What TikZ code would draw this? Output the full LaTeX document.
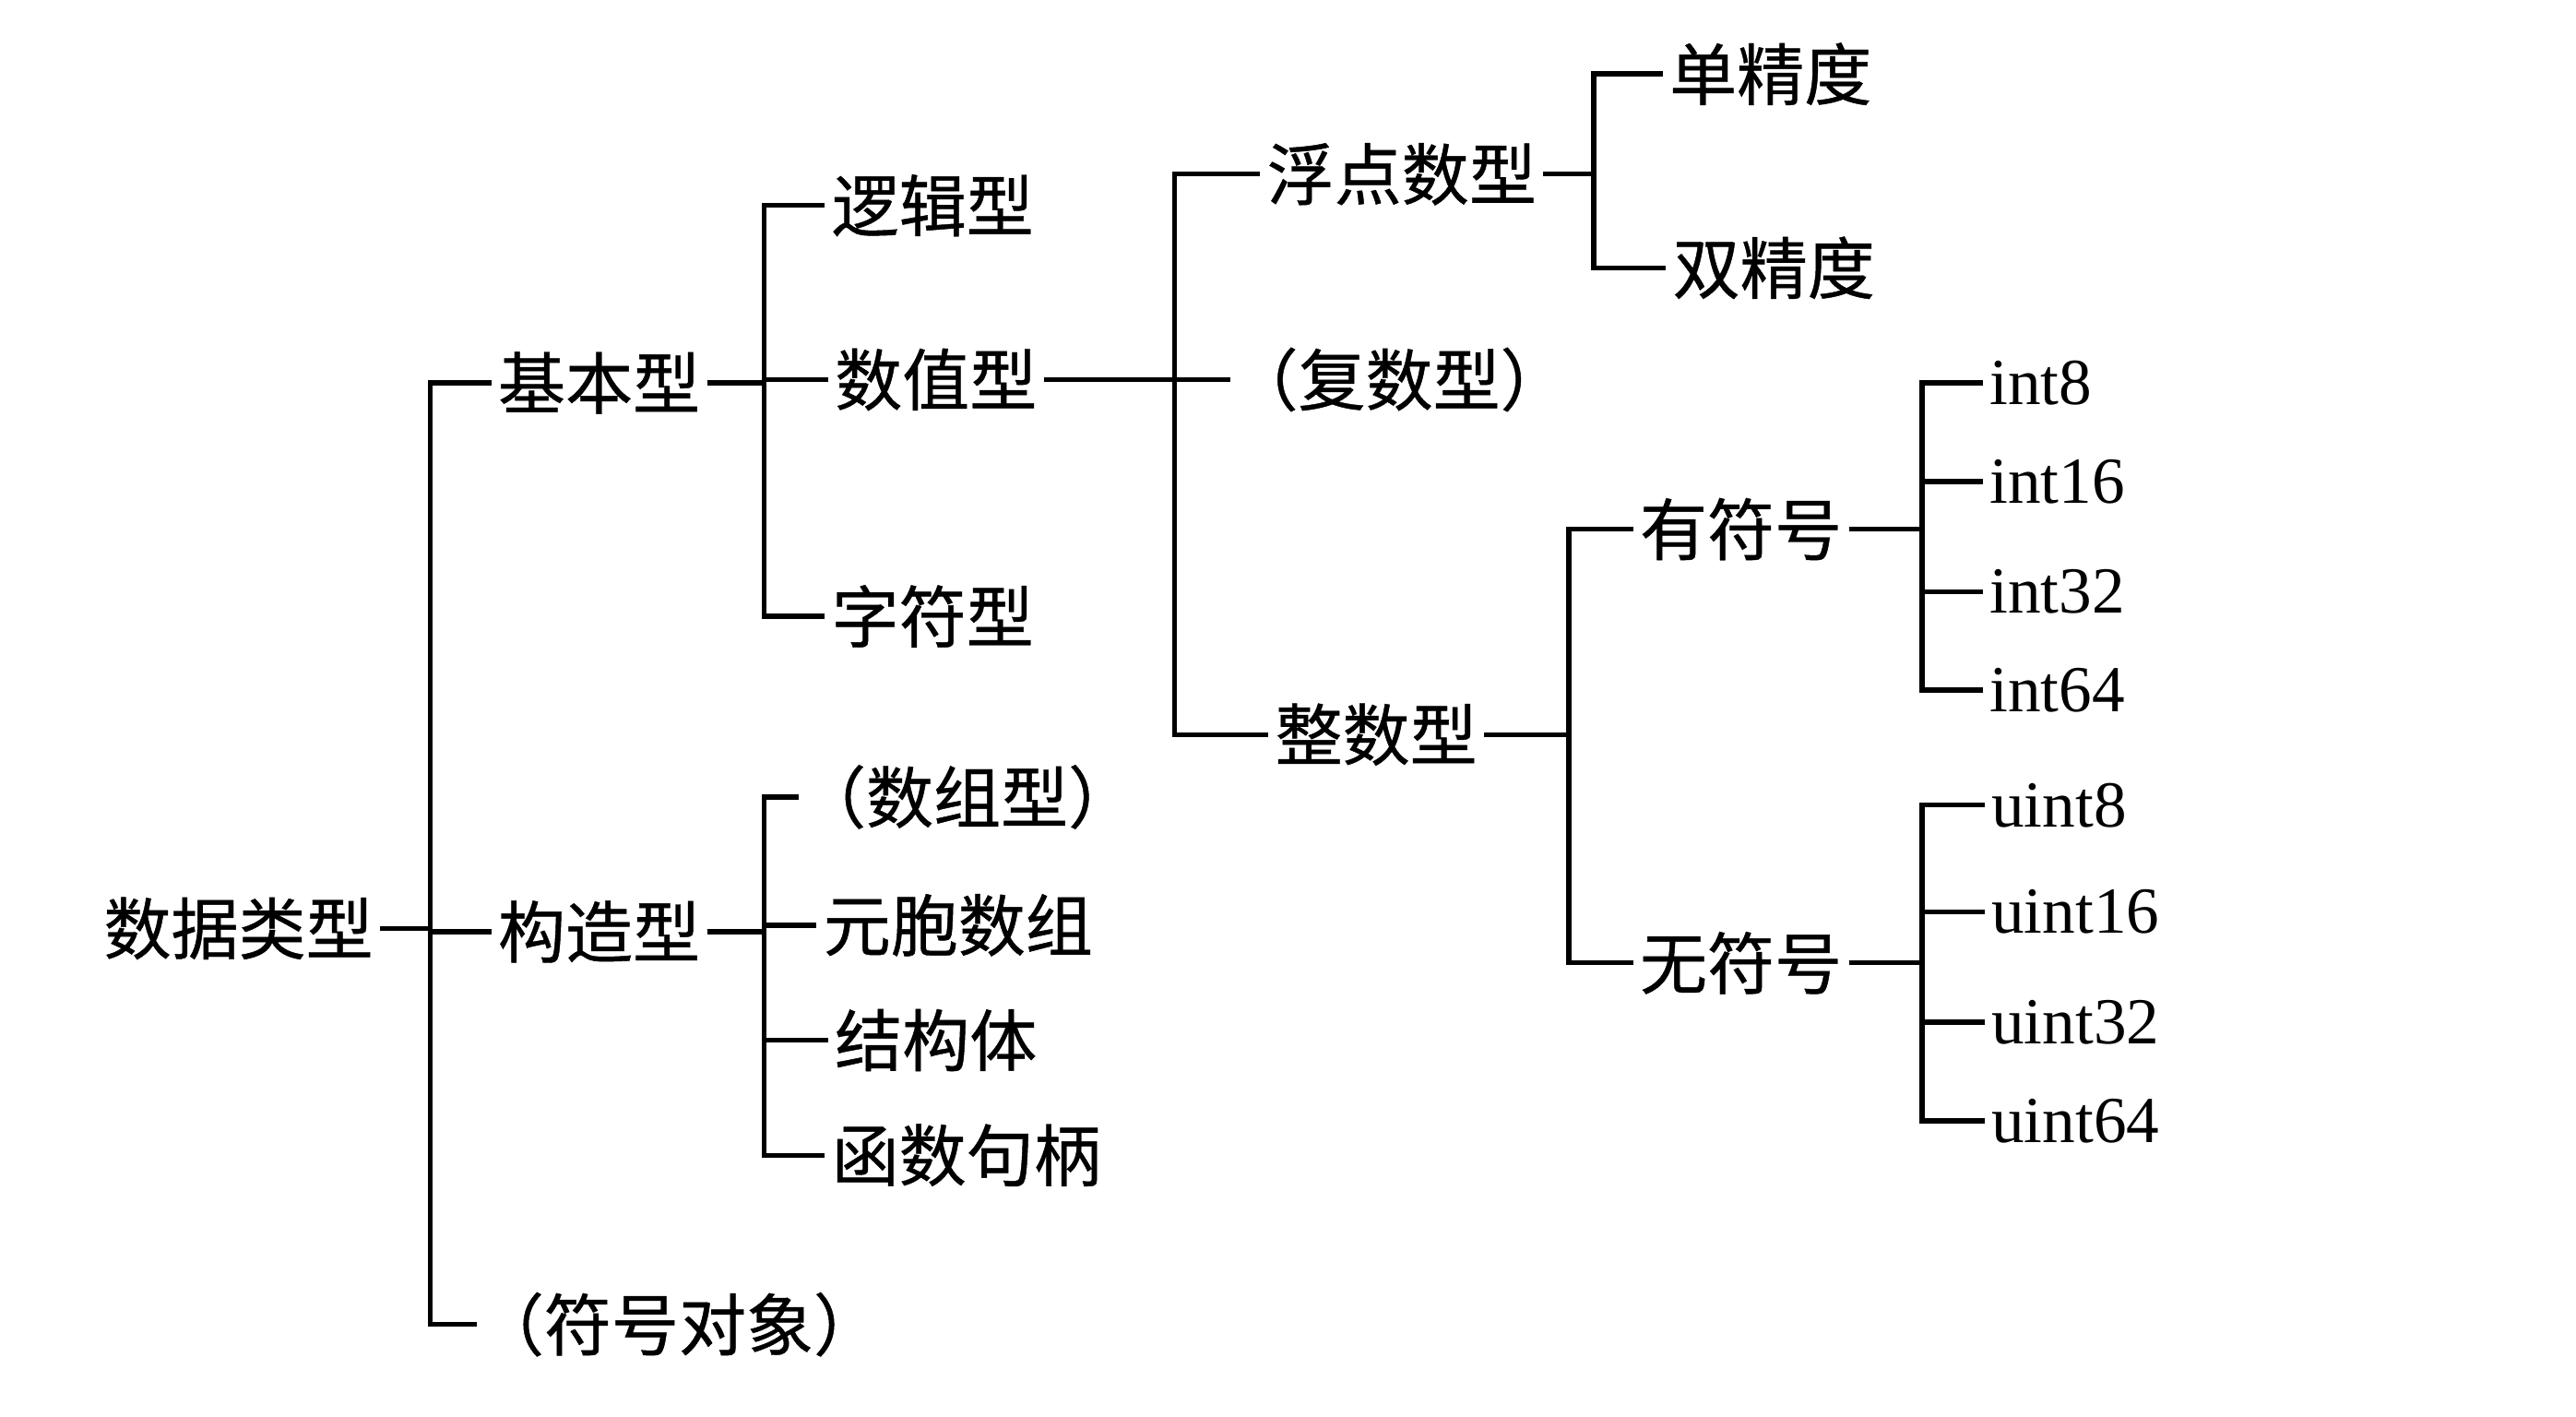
\documentclass[tikz,border=0pt]{standalone}
\usepackage{fontspec}
\newfontfamily\cjk[FakeBold=0.6]{Noto Sans CJK SC}
\newfontfamily\lat{Liberation Serif}
\begin{document}
\begin{tikzpicture}[x=1pt,y=-1pt,
  lbl/.style={anchor=west,inner xsep=4pt,inner ysep=0pt,font=\cjk\fontsize{41}{48}\selectfont},
  brk/.style={lbl,inner xsep=0pt},
  num/.style={anchor=west,inner xsep=4pt,inner ysep=0pt,font=\lat\fontsize{40}{48}\selectfont},
  conn/.style={draw=black,line width=3pt,line join=miter}]
\useasboundingbox[fill=white] (0,0) rectangle (1568,862);

% level 0
\node[lbl] (root) at (59,565) {数据类型};
% level 1
\node[lbl] (jb) at (299,233) {基本型};
\node[lbl] (gz) at (299,567) {构造型};
\node[brk] (fh) at (290,806) {（符号对象）};
% basic types
\node[lbl] (lj) at (502,125) {逻辑型};
\node[lbl] (sz) at (504,231) {数值型};
\node[lbl] (zf) at (502,375) {字符型};
% composite types
\node[brk] (szx) at (486,485) {（数组型）};
\node[lbl] (yb) at (497,563) {元胞数组};
\node[lbl] (jg) at (504,633) {结构体};
\node[lbl] (hs) at (502,703) {函数句柄};
% numeric types
\node[lbl] (fd) at (767,106) {浮点数型};
\node[brk] (fs) at (749,231) {（复数型）};
\node[lbl] (zs) at (772,447) {整数型};
% floating point
\node[lbl] (dj) at (1012,45) {单精度};
\node[lbl] (sj) at (1014,163) {双精度};
% integers
\node[lbl] (yf) at (994,322) {有符号};
\node[lbl] (wf) at (994,586) {无符号};
\node[num] (i8)  at (1207,233) {int8};
\node[num] (i16) at (1207,293) {int16};
\node[num] (i32) at (1207,360) {int32};
\node[num] (i64) at (1207,420) {int64};
\node[num] (u8)  at (1208,490) {uint8};
\node[num] (u16) at (1208,555) {uint16};
\node[num] (u32) at (1208,622) {uint32};
\node[num] (u64) at (1208,682) {uint64};

% vertical bus positions
\coordinate (b0) at (262,0);
\coordinate (b1) at (465,0);
\coordinate (b2) at (715,0);
\coordinate (b3) at (970,0);
\coordinate (b4) at (955,0);
\coordinate (b5) at (1170,0);

% tree connectors
\foreach \c in {jb,gz,fh} \draw[conn] (root.east) -| (b0 |- \c.west) -- (\c.west);
\foreach \c in {lj,sz,zf} \draw[conn] (jb.east) -| (b1 |- \c.west) -- (\c.west);
\foreach \c in {szx,yb,jg,hs} \draw[conn] (gz.east) -| (b1 |- \c.west) -- (\c.west);
\foreach \c in {fd,fs,zs} \draw[conn] (sz.east) -| (b2 |- \c.west) -- (\c.west);
\foreach \c in {dj,sj} \draw[conn] (fd.east) -| (b3 |- \c.west) -- (\c.west);
\foreach \c in {yf,wf} \draw[conn] (zs.east) -| (b4 |- \c.west) -- (\c.west);
\foreach \c in {i8,i16,i32,i64} \draw[conn] (yf.east) -| (b5 |- \c.west) -- (\c.west);
\foreach \c in {u8,u16,u32,u64} \draw[conn] (wf.east) -| (b5 |- \c.west) -- (\c.west);
\end{tikzpicture}
\end{document}
